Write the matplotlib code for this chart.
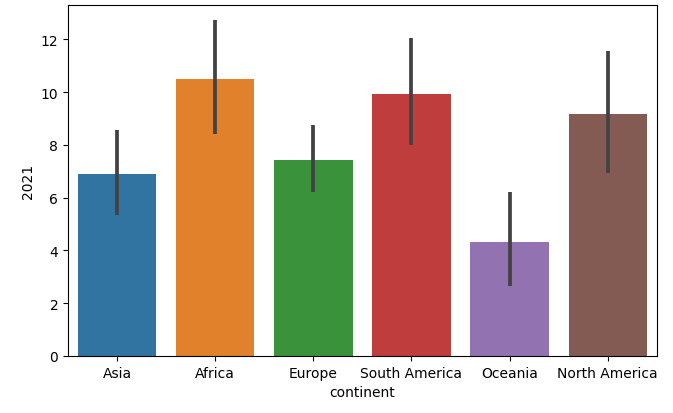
import matplotlib
matplotlib.use("Agg")
import matplotlib.pyplot as plt

continents = ["Asia", "Africa", "Europe", "South America", "Oceania", "North America"]
means = [6.9, 10.5, 7.42, 9.93, 4.3, 9.17]
ci_low = [5.35, 8.4, 6.2, 8.0, 2.65, 6.95]
ci_high = [8.55, 12.75, 8.75, 12.05, 6.2, 11.55]
colors = ["#3274a1", "#e1812c", "#3a923a", "#c03d3e", "#9372b2", "#845b53"]

fig, ax = plt.subplots(figsize=(6.73, 4.14), dpi=100)
x = range(len(continents))
ax.bar(x, means, width=0.8, color=colors)
ax.vlines(x, ci_low, ci_high, color="#424242", linewidth=2.7)
ax.set_xticks(list(x))
ax.set_xticklabels(continents)
ax.set_xlim(-0.5, len(continents) - 0.5)
ax.set_ylim(0, 13.3)
ax.set_xlabel("continent")
ax.set_ylabel("2021")
fig.subplots_adjust(left=0.101, right=0.976, top=0.985, bottom=0.138)
fig.savefig("out.png")
